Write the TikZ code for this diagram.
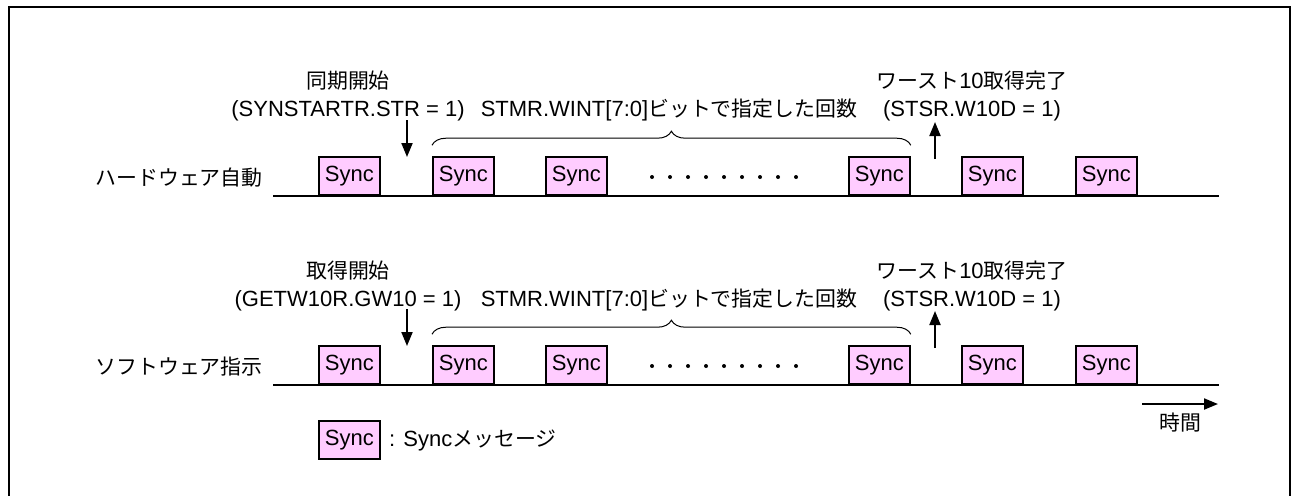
\documentclass[tikz,border=0pt]{standalone}
\usepackage{fontspec}
\setmainfont{Liberation Sans}
\newfontfamily\jpfont[Scale=0.95]{Noto Sans CJK JP}
\usepackage{tikz}
\usetikzlibrary{arrows.meta,positioning,decorations.pathreplacing}
\definecolor{ink}{HTML}{000000}
\definecolor{syncpink}{HTML}{FFCCFF}
\tikzset{
  every node/.style={font=\fontsize{11}{14}\selectfont,text=ink},
  syncbox/.style={draw=ink,fill=syncpink,line width=0.9pt,anchor=south west,minimum width=30.5pt,minimum height=19pt,inner sep=0pt},
  rowlabel/.style={anchor=east,inner sep=0pt},
  note/.style={align=center,inner sep=0pt},
  timeline/.style={draw=ink,line width=1pt},
  frameline/.style={draw=ink,line width=1.2pt},
  event/.style={-{Triangle[length=7pt,width=5.5pt]},line width=1pt,draw=ink},
  span/.style={draw=ink,line width=0.5pt,decorate,decoration={brace,amplitude=7pt}}
}

\begin{document}
\begin{tikzpicture}[x=0.5pt,y=-0.5pt]
  \useasboundingbox (0,0) rectangle (1294,495);
  \draw[frameline] (9,520) -- (9,7) -- (1290,7) -- (1290,520);

  \node[rowlabel] (hwLabel) at (263,178) {\jpfont ハードウェア自動};
  \coordinate (hwLineL) at (273,196);
  \coordinate (hwLineR) at (1219,196);
  \draw[timeline] (hwLineL) -- (hwLineR);
  \foreach \x/\n in {318/A,432/B,545/C,848/D,961/E,1075/F}
    \node[syncbox] (hw\n) at (\x,196) {Sync};
  \foreach \i in {0,...,8}
    \fill[ink] (652+18*\i,177) circle (1pt);

  \node[note] (hwStartLbl) at (348,96) {{\jpfont 同期開始}\\(SYNSTARTR.STR = 1)};
  \node[note] (hwCountLbl) at (669,110) {STMR.WINT[7:0]{\jpfont ビットで指定した回数}};
  \node[note] (hwDoneLbl) at (972,96) {{\jpfont ワースト}10{\jpfont 取得完了}\\(STSR.W10D = 1)};
  \coordinate (hwStartTop) at (407,120);
  \coordinate (hwStartTip) at (407,157);
  \coordinate (hwDoneBot) at (935,159);
  \coordinate (hwDoneTip) at (935,122);
  \draw[event] (hwStartTop) -- (hwStartTip);
  \draw[event] (hwDoneBot) -- (hwDoneTip);
  \draw[span] ([yshift=5.5pt]hwB.north west) -- ([yshift=5.5pt]hwD.north east);

  \node[rowlabel] (swLabel) at (263,367) {\jpfont ソフトウェア指示};
  \coordinate (swLineL) at (273,385);
  \coordinate (swLineR) at (1219,385);
  \draw[timeline] (swLineL) -- (swLineR);
  \foreach \x/\n in {318/A,432/B,545/C,848/D,961/E,1075/F}
    \node[syncbox] (sw\n) at (\x,385) {Sync};
  \foreach \i in {0,...,8}
    \fill[ink] (652+18*\i,366) circle (1pt);

  \node[note] (swStartLbl) at (348,286) {{\jpfont 取得開始}\\(GETW10R.GW10 = 1)};
  \node[note] (swCountLbl) at (669,300) {STMR.WINT[7:0]{\jpfont ビットで指定した回数}};
  \node[note] (swDoneLbl) at (972,286) {{\jpfont ワースト}10{\jpfont 取得完了}\\(STSR.W10D = 1)};
  \coordinate (swStartTop) at (407,309);
  \coordinate (swStartTip) at (407,346);
  \coordinate (swDoneBot) at (935,348);
  \coordinate (swDoneTip) at (935,311);
  \draw[event] (swStartTop) -- (swStartTip);
  \draw[event] (swDoneBot) -- (swDoneTip);
  \draw[span] ([yshift=5.5pt]swB.north west) -- ([yshift=5.5pt]swD.north east);

  \node[syncbox] (legendSync) at (318,460) {Sync};
  \node[anchor=west,inner sep=0pt,right=4pt of legendSync] (legendText) {: Sync{\jpfont メッセージ}};

  \coordinate (timeL) at (1142,404);
  \coordinate (timeR) at (1218,404);
  \draw[event] (timeL) -- (timeR);
  \node[note] (timeLbl) at (1180,423) {\jpfont 時間};
\end{tikzpicture}
\end{document}
